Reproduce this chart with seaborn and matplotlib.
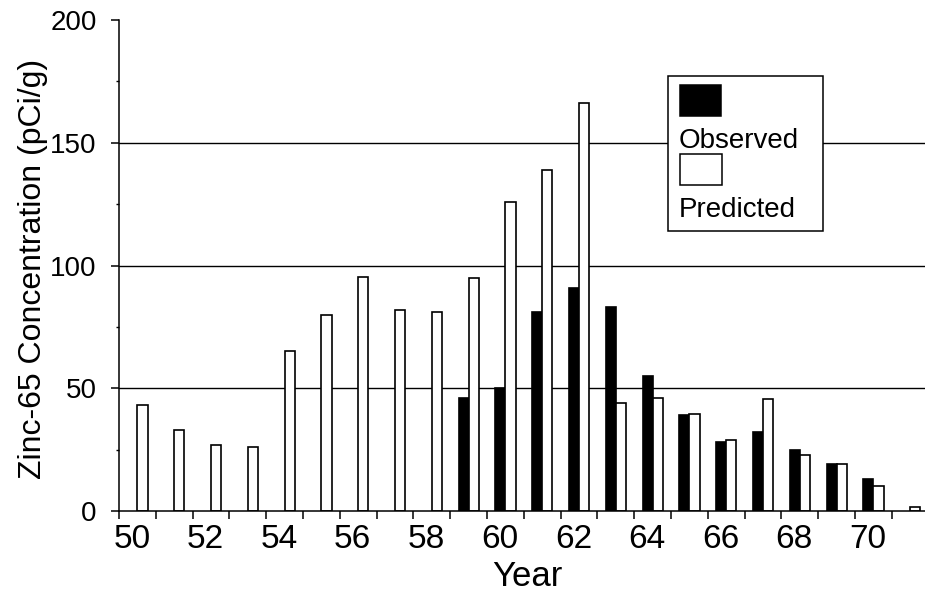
import numpy as np
import pandas as pd
import matplotlib
matplotlib.use("Agg")
import matplotlib.pyplot as plt
from matplotlib.patches import Rectangle
import seaborn as sns

# Zinc-65 concentration by year (1950-1971), pCi/g
years = ["50", "51", "52", "53", "54", "55", "56", "57", "58", "59", "60",
         "61", "62", "63", "64", "65", "66", "67", "68", "69", "70", "71"]
observed = [np.nan, np.nan, np.nan, np.nan, np.nan, np.nan, np.nan, np.nan, np.nan,
            46, 50, 81, 91, 83, 55, 39, 28, 32, 25, 19, 13, np.nan]
predicted = [43, 33, 27, 26, 65, 80, 95.5, 82, 81, 95, 126, 139, 166, 44, 46,
             39.5, 29, 45.5, 23, 19, 10, 1.5]
series_names = ["Observed", "Predicted"]
y_ticks = [0, 50, 100, 150, 200]
grid_levels = [50, 100, 150]

df = pd.concat([
    pd.DataFrame({"year": years, "value": observed, "series": series_names[0]}),
    pd.DataFrame({"year": years, "value": predicted, "series": series_names[1]}),
]).dropna()

sns.set_style("ticks")
plt.rcParams["font.family"] = ["Liberation Sans", "DejaVu Sans"]
plt.rcParams["text.color"] = "black"
plt.rcParams["axes.labelcolor"] = "black"
plt.rcParams["xtick.color"] = "black"
plt.rcParams["ytick.color"] = "black"

W, H = 925, 594
fig = plt.figure(figsize=(W / 100, H / 100), dpi=100)
ax_left, ax_bottom_px, ax_top_px = 119, 511, 20
ax = fig.add_axes([ax_left / W, (H - ax_bottom_px) / H,
                   (W - ax_left) / W, (ax_bottom_px - ax_top_px) / H])

for lvl in grid_levels:
    ax.axhline(lvl, color="black", lw=1.0, zorder=0)

sns.barplot(data=df, x="year", y="value", hue="series", order=years,
            hue_order=series_names,
            palette={"Observed": "black", "Predicted": "white"},
            width=0.55, saturation=1, edgecolor="black", linewidth=1.2,
            errorbar=None, legend=False, ax=ax, zorder=2)

ax.set_xlim(-0.5, 21.4)
ax.set_ylim(0, 200)

# tick marks sit on category boundaries; labels for every other year sit
# just to the right of their boundary
bounds = np.arange(len(years)) - 0.5
ax.set_xticks(bounds, minor=True)
ax.set_xticks(bounds[::2] + 0.35)
ax.set_xticklabels(years[::2], fontsize=24)
ax.tick_params(axis="x", which="major", length=0, pad=9)
ax.tick_params(axis="x", which="minor", length=6, width=1.1, color="black")

ax.set_yticks(y_ticks)
ax.set_yticks([25, 75, 125, 175], minor=True)
ax.tick_params(axis="y", which="major", length=6, width=1.1, pad=10,
               labelsize=20, color="black")
ax.tick_params(axis="y", which="minor", length=2.5, width=1.0, color="black")

for side in ["top", "right"]:
    ax.spines[side].set_visible(False)
for side in ["left", "bottom"]:
    ax.spines[side].set_linewidth(1.1)
    ax.spines[side].set_color("black")

ax.set_xlabel("Year", fontsize=25)
ax.set_ylabel("Zinc-65 Concentration (pCi/g)", fontsize=23)
ax.xaxis.set_label_coords((527 - ax_left) / (W - ax_left),
                          (ax_bottom_px - 586) / (ax_bottom_px - ax_top_px))
ax.xaxis.label.set_verticalalignment("baseline")
ax.yaxis.set_label_coords((48 - ax_left) / (W - ax_left), 0.494)


# legend box with swatches stacked above their labels
def fx(px):
    return px / W


def fy(py):
    return 1 - py / H


fig.add_artist(Rectangle((fx(668), fy(231)), fx(823) - fx(668), fy(76) - fy(231),
                         transform=fig.transFigure, facecolor="white",
                         edgecolor="black", lw=1.1, zorder=5))
fig.add_artist(Rectangle((fx(680), fy(116)), fx(721) - fx(680), fy(85) - fy(116),
                         transform=fig.transFigure, facecolor="black",
                         edgecolor="black", lw=1.1, zorder=6))
fig.add_artist(Rectangle((fx(680), fy(185)), fx(722) - fx(680), fy(154) - fy(185),
                         transform=fig.transFigure, facecolor="white",
                         edgecolor="black", lw=1.1, zorder=6))
fig.text(fx(679), fy(148), series_names[0], fontsize=20, va="baseline",
         ha="left", zorder=6)
fig.text(fx(679), fy(217), series_names[1], fontsize=20, va="baseline",
         ha="left", zorder=6)

fig.savefig("out.png", dpi=100, facecolor="white")
